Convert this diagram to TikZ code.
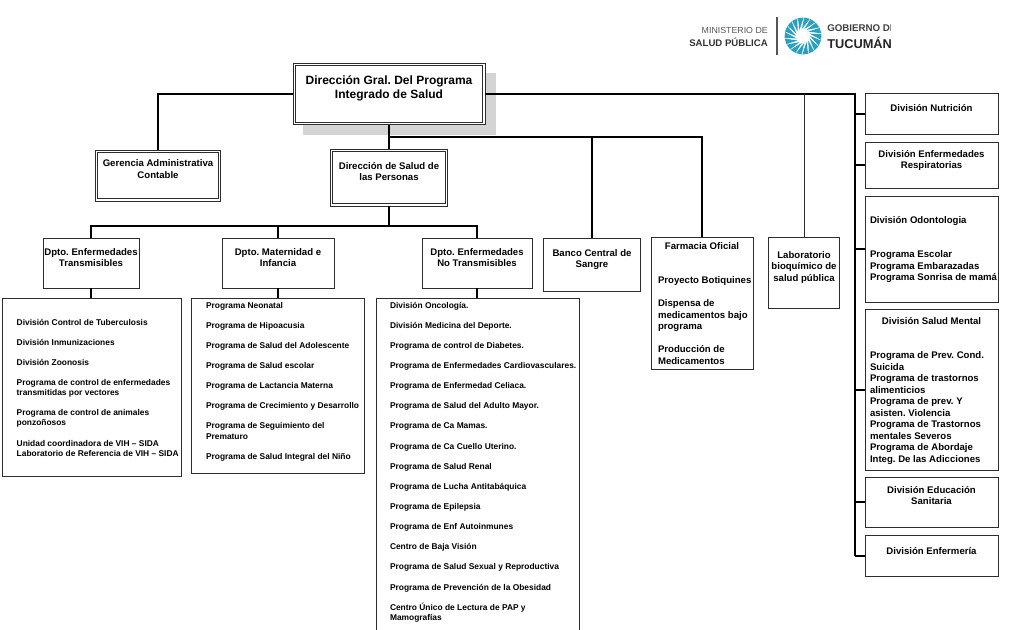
\documentclass[tikz,border=0pt]{standalone}
\usepackage{fontspec}
\setmainfont{Liberation Sans}
\usepackage{xcolor}
\usetikzlibrary{positioning}
\definecolor{boxline}{RGB}{45,45,45}
\definecolor{shadowgray}{RGB}{212,212,212}
\definecolor{suncolor}{RGB}{40,160,190}
\definecolor{logogray}{RGB}{85,85,85}
\frenchspacing
\begin{document}
\begin{tikzpicture}[
  x=.75pt, y=-.75pt,
  wh/.style 2 args={minimum width=#1*.75pt, minimum height=#2*.75pt},
  box/.style={draw=boxline, line width=.7pt, fill=white, inner sep=0pt, outer sep=0pt},
  dbox/.style={box, path picture={
    \draw[boxline, line width=.7pt] ([shift={(1.7pt,1.7pt)}]path picture bounding box.south west) rectangle ([shift={(-1.7pt,-1.7pt)}]path picture bounding box.north east);}},
  shadowbox/.style={fill=shadowgray, inner sep=0pt},
  con/.style={draw=black, line width=1.5pt},
  thincon/.style={draw=boxline, line width=.7pt},
  hdr/.style={font=\fontsize{7.2}{8.6}\selectfont\bfseries, align=center, inner sep=0pt, outer sep=0pt},
  bighdr/.style={hdr, font=\fontsize{9}{10.5}\selectfont\bfseries},
  lst/.style={font=\fontsize{6.3}{7.6}\selectfont\bfseries, align=left, anchor=north west, inner sep=0pt, outer sep=0pt},
  biglst/.style={lst, font=\fontsize{7.2}{8.6}\selectfont\bfseries}]
\clip (0,0) rectangle (1024,629);
\fill[white] (0,0) rectangle (1024,629);
% logo
\node[font=\fontsize{6.6}{8}\selectfont, text=logogray, anchor=east, inner sep=0pt] (ministerio) at (768,30) {MINISTERIO DE};
\node[font=\fontsize{7.2}{8}\selectfont\bfseries, text=black!80, anchor=east, inner sep=0pt] (saludpub) at (768,42) {SALUD PÚBLICA};
\node[fill=logogray, minimum width=.9pt, minimum height=28pt, inner sep=0pt] (logobar) at (777,36) {};
\begin{scope}[shift={(803,36)}]
  \foreach \a in {0,20,...,340}
    \fill[suncolor] (\a:7) -- (\a+32:18.5) -- (\a+14:18.5) -- cycle;
\end{scope}
\begin{scope}
  \clip (820,15) rectangle (890,55);
  \node[font=\fontsize{7.3}{8}\selectfont\bfseries, text=black!75, anchor=west, inner sep=0pt] (gobierno) at (827,28) {GOBIERNO DE};
  \node[font=\fontsize{9.6}{10}\selectfont\bfseries, text=black!85, anchor=west, inner sep=0pt] (tucuman) at (827,43) {TUCUMÁN};
\end{scope}
% top boxes
\node[shadowbox, wh={193}{62}] (sombra) at (399.5,104) {};
\node[dbox, wh={192}{61}] (main) at (389,94) {};
\node[bighdr, below=9.4pt of main.north] (main-t) {Dirección Gral. Del Programa\\Integrado de Salud};
\node[dbox, wh={125}{51}] (gerencia) at (158,175.5) {};
\node[hdr, below=7.2pt of gerencia.north] (gerencia-t) {Gerencia Administrativa\\Contable};
\node[dbox, wh={117}{57}] (salud) at (389,177.5) {};
\node[hdr, below=9.8pt of salud.north] (salud-t) {Dirección de Salud de\\las Personas};
% departamentos
\node[box, wh={96}{50}] (dptoa) at (91,263) {};
\node[hdr, below=7.7pt of dptoa.north] (dptoa-t) {Dpto. Enfermedades\\Transmisibles};
\node[box, wh={112}{50}] (dptob) at (278,263) {};
\node[hdr, below=7.7pt of dptob.north] (dptob-t) {Dpto. Maternidad e\\Infancia};
\node[box, wh={110}{50}] (dptoc) at (477,263) {};
\node[hdr, below=7.7pt of dptoc.north] (dptoc-t) {Dpto. Enfermedades\\No Transmisibles};
\node[box, wh={97}{53}] (banco) at (592,264.5) {};
\node[hdr, below=8.6pt of banco.north] (banco-t) {Banco Central de\\Sangre};
\node[box, wh={102}{132}] (farmacia) at (702,303) {};
\node[hdr, below=4.1pt of farmacia.north] (farmacia-t) {Farmacia Oficial};
\node[biglst] (farmacia-l) at (658,277) {Proyecto Botiquines\\[8.6pt]Dispensa de\\medicamentos bajo\\programa\\[8.6pt]Producción de\\Medicamentos};
\node[box, wh={71}{71}] (lab) at (804,272.5) {};
\node[hdr, below=10.7pt of lab.north] (lab-t) {Laboratorio\\bioquímico de\\salud pública};
% listas
\node[box, wh={179}{178}] (lista) at (91.5,387) {};
\node[lst] (lista-t) at (16.7,319) {División Control de Tuberculosis\\[7.5pt]División Inmunizaciones\\[7.5pt]División Zoonosis\\[7.5pt]Programa de control de enfermedades\\transmitidas por vectores\\[7.5pt]Programa de control de animales\\ponzoñosos\\[7.5pt]Unidad coordinadora de VIH – SIDA\\Laboratorio de Referencia de VIH – SIDA};
\node[box, wh={173}{175}] (listb) at (277.5,385.5) {};
\node[lst] (listb-t) at (206,302) {Programa Neonatal\\[7.5pt]Programa de Hipoacusia\\[7.5pt]Programa de Salud del Adolescente\\[7.5pt]Programa de Salud escolar\\[7.5pt]Programa de Lactancia Materna\\[7.5pt]Programa de Crecimiento y Desarrollo\\[7.5pt]Programa de Seguimiento del\\Prematuro\\[7.5pt]Programa de Salud Integral del Niño};
\node[box, wh={203}{342}] (listc) at (477.5,469) {};
\node[lst] (listc-t) at (390,302) {División Oncología.\\[7.5pt]División Medicina del Deporte.\\[7.5pt]Programa de control de Diabetes.\\[7.5pt]Programa de Enfermedades Cardiovasculares.\\[7.5pt]Programa de Enfermedad Celiaca.\\[7.5pt]Programa de Salud del Adulto Mayor.\\[7.5pt]Programa de Ca Mamas.\\[7.5pt]Programa de Ca Cuello Uterino.\\[7.5pt]Programa de Salud Renal\\[7.5pt]Programa de Lucha Antitabáquica\\[7.5pt]Programa de Epilepsia\\[7.5pt]Programa de Enf Autoinmunes\\[7.5pt]Centro de Baja Visión\\[7.5pt]Programa de Salud Sexual y Reproductiva\\[7.5pt]Programa de Prevención de la Obesidad\\[7.5pt]Centro Único de Lectura de PAP y\\Mamografías};
% divisiones
\node[box, wh={133}{41}] (nutri) at (931.5,114) {};
\node[hdr, below=8.5pt of nutri.north] (nutri-t) {División Nutrición};
\node[box, wh={133}{46}] (resp) at (931.5,165) {};
\node[hdr, below=6.3pt of resp.north] (resp-t) {División Enfermedades\\Respiratorias};
\node[box, wh={133}{106}] (odonto) at (931.5,249) {};
\node[biglst] (odonto-t) at (870,216.5) {División Odontologia\\[17.2pt]Programa Escolar\\Programa Embarazadas\\Programa Sonrisa de mamá};
\node[box, wh={133}{161}] (mental) at (931.5,390) {};
\node[hdr, below=6pt of mental.north] (mental-t) {División Salud Mental};
\node[biglst] (mental-l) at (870,352) {Programa de Prev. Cond.\\Suicida\\Programa de trastornos\\alimenticios\\Programa de prev. Y\\asisten. Violencia\\Programa de Trastornos\\mentales Severos\\Programa de Abordaje\\Integ. De las Adicciones};
\node[box, wh={133}{50}] (educ) at (931.5,502) {};
\node[hdr, below=6.8pt of educ.north] (educ-t) {División Educación\\Sanitaria};
\node[box, wh={133}{41}] (enferm) at (931.5,556) {};
\node[hdr, below=8.6pt of enferm.north] (enferm-t) {División Enfermería};
% conectores
\coordinate (busr) at (855,94);
\coordinate (busb) at (855,556);
\coordinate (busm) at (389,137);
\coordinate (busd) at (389,226);
\draw[con] (main.west) -| (gerencia.north);
\draw[con] (main.east) -- (busr) -- (busb);
\draw[con] (main.south) -- (salud.north);
\draw[con] (busm) -| (banco.north);
\draw[con] (busm) -| (farmacia.north);
\draw[thincon] (lab.north) -- (lab.north |- main.east);
\draw[con] (salud.south) -- (busd);
\foreach \n/\m in {dptoa/lista,dptob/listb,dptoc/listc} {
  \draw[con] (busd) -| (\n.north);
  \draw[con] (\n.south) -- (\n.south |- \m.north);
}
\foreach \n in {nutri,resp,odonto,mental,educ,enferm}
  \draw[con] (\n.west) -- (busr |- \n.west);
\end{tikzpicture}
\end{document}
